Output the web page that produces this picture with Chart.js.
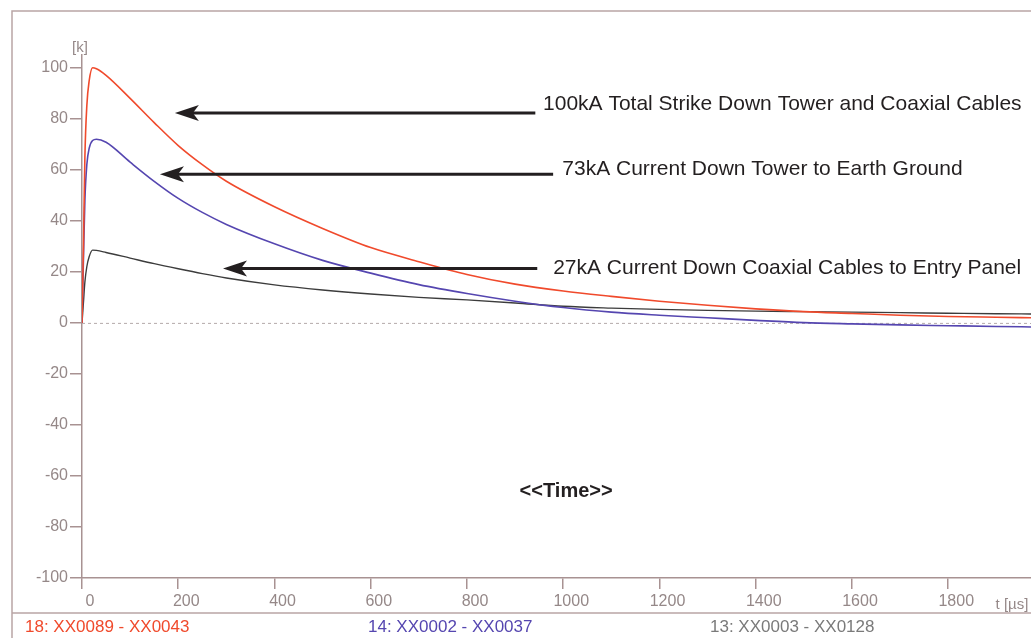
<!DOCTYPE html>
<html>
<head>
<meta charset="utf-8">
<script src="https://cdn.jsdelivr.net/npm/chart.js@4.4.0/dist/chart.umd.min.js"></script>
<style>
    html, body { margin: 0; padding: 0; background: #fff; }
    #wrap { position: relative; width: 1031px; height: 638px; }
</style>
</head>
<body>
<div id="wrap"><canvas id="chart" width="1031" height="638"></canvas></div>
<script>
/* ============================================================
   Données (t en µs, courant en kA)
   ============================================================ */
const times = [0, 3, 6, 10, 15, 22, 30, 50, 100, 150, 200, 250, 300, 400, 500, 600, 700, 800, 900, 1000, 1100, 1200, 1300, 1400, 1500, 1600, 1700, 1800, 1900, 1972];
const totalStrike = [0, 30, 65, 85, 95, 100, 99.6, 97, 88, 78.5, 69.5, 62, 55.5, 45.5, 37, 29.5, 24, 19, 15.2, 12.5, 10.4, 8.5, 6.9, 5.5, 4.4, 3.7, 3.0, 2.5, 2.2, 2.0];
const towerGround = [0, 25, 48, 62, 68.5, 71.5, 72, 70.8, 63, 55.5, 48.8, 43.3, 38.6, 31, 24.5, 19.5, 15, 11.5, 8.5, 6, 4.2, 3, 2, 1, 0.1, -0.4, -0.8, -1.1, -1.4, -1.6];
const coaxPanel = [0, 8, 16, 22, 26, 28.5, 28.4, 27.6, 25.4, 23.2, 21.2, 19.3, 17.6, 14.9, 12.9, 11.3, 10, 9, 7.8, 6.5, 5.8, 5.3, 4.9, 4.6, 4.4, 4.2, 4.0, 3.8, 3.6, 3.5];

const xTicks = [0, 200, 400, 600, 800, 1000, 1200, 1400, 1600, 1800];
const yTicks = [-100, -80, -60, -40, -20, 0, 20, 40, 60, 80, 100];

const legendLabels = ['18: XX0089 - XX0043', '14: XX0002 - XX0037', '13: XX0003 - XX0128'];

// annotations (flèches + textes), en coordonnées de données
const noteTexts = [
    '100kA Total Strike Down Tower and Coaxial Cables',
    '73kA Current Down Tower to Earth Ground',
    '27kA Current Down Coaxial Cables to Entry Panel'
];
const arrowLevels = [82.3, 58.3, 21.3];
const arrowTips = [193, 162, 293];
const arrowTails = [942, 979, 946];
const textStarts = [958, 998, 979];
const textLevels = [85.8, 60.2, 21.5];

const RED = '#f04a2c';
const BLUE = '#5546b0';
const BLACK = '#3c3c3c';
const AXIS = '#a89292';
const LABEL = '#958888';

function toPoints(values) {
    return times.map((t, i) => ({ x: t, y: values[i] }));
}

/* ============================================================
   Plugin : cadre, ligne zéro, flèches, légende
   ============================================================ */
function drawArrow(ctx, tail, tip, y) {
    ctx.save();
    ctx.strokeStyle = '#231f20';
    ctx.fillStyle = '#231f20';
    ctx.lineWidth = 3;
    ctx.beginPath();
    ctx.moveTo(tail, y);
    ctx.lineTo(tip + 16, y);
    ctx.stroke();
    ctx.beginPath();
    ctx.moveTo(tip, y);
    ctx.lineTo(tip + 24, y - 8);
    ctx.lineTo(tip + 18, y);
    ctx.lineTo(tip + 24, y + 8);
    ctx.closePath();
    ctx.fill();
    ctx.restore();
}

const decorPlugin = {
    id: 'decor',
    beforeDraw(chart) {
        const ctx = chart.ctx;
        ctx.save();
        ctx.strokeStyle = '#b9a5a5';
        ctx.lineWidth = 1.5;
        ctx.beginPath();
        ctx.moveTo(12, 638);
        ctx.lineTo(12, 11);
        ctx.lineTo(1031, 11);
        ctx.moveTo(12, 613);
        ctx.lineTo(1031, 613);
        ctx.stroke();
        ctx.restore();
    },
    beforeDatasetsDraw(chart) {
        const { ctx, scales: { y }, chartArea } = chart;
        const y0 = y.getPixelForValue(0);
        ctx.save();
        ctx.strokeStyle = '#b3a9a9';
        ctx.lineWidth = 1;
        ctx.setLineDash([3, 3]);
        ctx.beginPath();
        ctx.moveTo(chartArea.left, y0 + 0.5);
        ctx.lineTo(chartArea.right, y0 + 0.5);
        ctx.stroke();
        ctx.restore();
    },
    afterDraw(chart) {
        const { ctx, scales: { x, y }, chartArea } = chart;
        ctx.save();

        // unités des axes
        ctx.fillStyle = LABEL;
        ctx.font = '15px "Liberation Sans"';
        ctx.textAlign = 'center';
        ctx.textBaseline = 'middle';
        ctx.fillText('[k]', chartArea.left - 2, chartArea.top - 7);
        ctx.fillText('t [µs]', 1012, 605);

        // flèches et textes
        ctx.fillStyle = '#231f20';
        ctx.font = '21px "Liberation Sans"';
        ctx.textAlign = 'left';
        noteTexts.forEach((txt, i) => {
            drawArrow(ctx, x.getPixelForValue(arrowTails[i]), x.getPixelForValue(arrowTips[i]), y.getPixelForValue(arrowLevels[i]));
            ctx.fillText(txt, x.getPixelForValue(textStarts[i]), y.getPixelForValue(textLevels[i]));
        });

        ctx.font = 'bold 20px "Liberation Sans"';
        ctx.textAlign = 'center';
        ctx.fillText('<<Time>>', x.getPixelForValue(1006), y.getPixelForValue(-66));

        // légende du bas
        ctx.font = '17px "Liberation Sans"';
        ctx.textAlign = 'left';
        const legendColors = [RED, BLUE, '#7a7a7a'];
        const legendX = [25, 368, 710];
        legendLabels.forEach((lbl, i) => {
            ctx.fillStyle = legendColors[i];
            ctx.fillText(lbl, legendX[i], 627);
        });
        ctx.restore();
    }
};

/* ============================================================
   Graphique Chart.js
   ============================================================ */
const ctx = document.getElementById('chart').getContext('2d');
new Chart(ctx, {
    type: 'line',
    data: {
        datasets: [
            { label: legendLabels[0], data: toPoints(totalStrike), borderColor: RED, borderWidth: 1.6 },
            { label: legendLabels[1], data: toPoints(towerGround), borderColor: BLUE, borderWidth: 1.6 },
            { label: legendLabels[2], data: toPoints(coaxPanel), borderColor: BLACK, borderWidth: 1.4 }
        ]
    },
    options: {
        responsive: false,
        animation: false,
        events: [],
        elements: {
            point: { radius: 0 },
            line: { cubicInterpolationMode: 'monotone', fill: false }
        },
        layout: { padding: { top: 55, right: 0, bottom: 0, left: 0 } },
        plugins: {
            legend: { display: false },
            tooltip: { enabled: false }
        },
        scales: {
            x: {
                type: 'linear',
                min: 0,
                max: 1972,
                afterBuildTicks: s => { s.ticks = xTicks.map(v => ({ value: v })); },
                afterFit: s => { s.height = 60; },
                border: { display: true, color: AXIS, width: 1.5 },
                grid: { drawOnChartArea: false, drawTicks: true, tickLength: 11, color: AXIS, lineWidth: 1.5 },
                ticks: {
                    color: LABEL,
                    font: { family: 'Liberation Sans', size: 16 },
                    padding: 3,
                    labelOffset: 8,
                    maxRotation: 0,
                    callback: v => String(v)
                }
            },
            y: {
                min: -100,
                max: 105,
                afterBuildTicks: s => { s.ticks = yTicks.map(v => ({ value: v })); },
                afterFit: s => { s.width = 82; },
                border: { display: true, color: AXIS, width: 1.5 },
                grid: { drawOnChartArea: false, drawTicks: true, tickLength: 12, color: AXIS, lineWidth: 1.5 },
                ticks: {
                    color: LABEL,
                    font: { family: 'Liberation Sans', size: 16 },
                    padding: 2,
                    callback: v => String(v)
                }
            }
        }
    },
    plugins: [decorPlugin]
});
</script>
</body>
</html>
